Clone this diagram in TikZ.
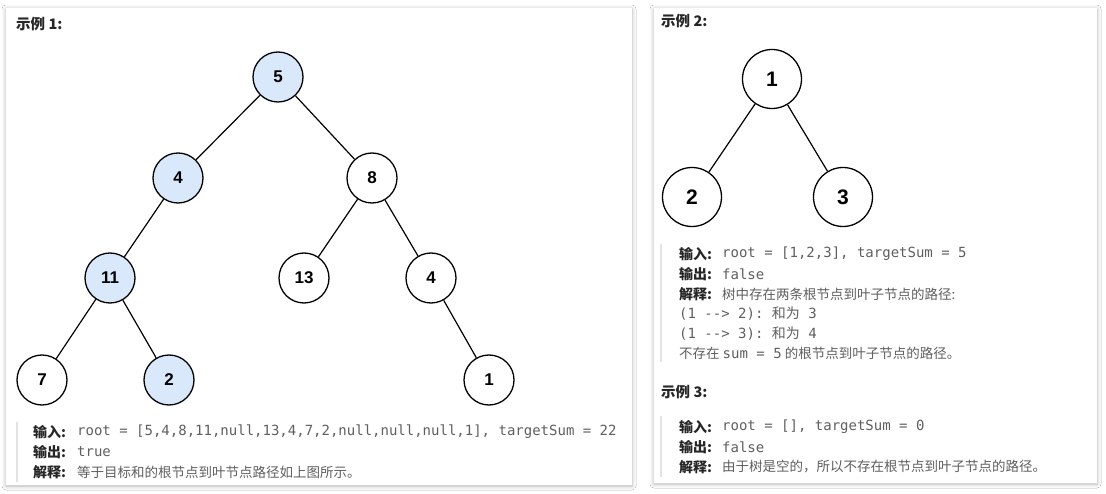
\documentclass[tikz,border=0pt]{standalone}
\usepackage{fontspec}
\setmainfont{Liberation Sans}
\setmonofont{DejaVu Sans Mono}
\newfontfamily\cjk{Noto Sans CJK SC}
\usepackage{tikz}
\usetikzlibrary{positioning}
\usetikzlibrary{shadows.blur}
\definecolor{hitblue}{HTML}{DAE8FC}
\definecolor{labelc}{HTML}{262626}
\definecolor{codec}{HTML}{5F5F5F}
\definecolor{barc}{HTML}{E3E3E3}
\tikzset{
  tnode/.style={draw, circle, minimum size=50pt, inner sep=0pt, line width=1.3pt,
    font=\bfseries\fontsize{17}{17}\selectfont},
  hit/.style={tnode, fill=hitblue},
  bignode/.style={tnode, minimum size=59pt, font=\bfseries\fontsize{21}{21}\selectfont},
  edge/.style={line width=1.2pt},
  panel/.style={fill=white, blur shadow={shadow xshift=0pt, shadow yshift=-1pt,
    shadow blur radius=4pt, shadow opacity=30}},
  bar/.style={draw=barc, line width=2pt},
  head/.style={anchor=west, inner sep=0pt, text=labelc, font=\cjk\bfseries\fontsize{14.5}{15}\selectfont},
  lbl/.style={anchor=west, inner sep=0pt, text=labelc, font=\cjk\bfseries\fontsize{14}{14}\selectfont},
  val/.style={anchor=west, inner sep=0pt, text=codec, font=\ttfamily\fontsize{14}{14}\selectfont},
  note/.style={anchor=west, inner sep=0pt, text=codec, font=\cjk\fontsize{13.5}{14}\selectfont}
}

\begin{document}
\begin{tikzpicture}[x=1pt, y=-1pt, on grid]
        \useasboundingbox [fill=white] (0,0) rectangle (1106,494);

        % the two cards
        \path [panel] (6,8) rectangle (632,485);
        \path [panel] (654,8) rectangle (1097,483);
        \draw [bar] (17,422) -- (17,482);
        \draw [bar] (661,244) -- (661,362);
        \draw [bar] (661,416) -- (661,477);

        % example 1
        \node [head] (head1) at (16,24) {示例 1:};

        \node [hit] (n5) at (278,77) {5};
        \node [hit, below left=101pt and 100pt of n5] (n4a) {4};
        \node [tnode, below right=101pt and 94pt of n5] (n8) {8};
        \node [hit, below left=100pt and 68pt of n4a] (n11) {11};
        \node [tnode, below left=100pt and 68pt of n8] (n13) {13};
        \node [tnode, below right=100pt and 59pt of n8] (n4b) {4};
        \node [tnode, below left=102pt and 68pt of n11] (n7) {7};
        \node [hit, below right=102pt and 59pt of n11] (n2) {2};
        \node [tnode, below right=102pt and 58pt of n4b] (n1) {1};
        \draw [edge] (n5)--(n4a);
        \draw [edge] (n5)--(n8);
        \draw [edge] (n4a)--(n11);
        \draw [edge] (n8)--(n13);
        \draw [edge] (n8)--(n4b);
        \draw [edge] (n11)--(n7);
        \draw [edge] (n11)--(n2);
        \draw [edge] (n4b)--(n1);

        \node [lbl] (in1) at (33,432) {输入:};
        \node [val] (inval1) at (77,432) {root = [5,4,8,11,null,13,4,7,2,null,null,null,1], targetSum = 22};
        \node [lbl] (out1) at (33,452) {输出:};
        \node [val] (outval1) at (77,452) {true};
        \node [lbl] (why1) at (33,472) {解释:};
        \node [note] (whyval1) at (77,472) {等于目标和的根节点到叶节点路径如上图所示。};

        % example 2
        \node [head] (head2) at (661,21) {示例 2:};

        \node [bignode] (m1) at (772,79) {1};
        \node [bignode, below left=118pt and 80pt of m1] (m2) {2};
        \node [bignode, below right=118pt and 71pt of m1] (m3) {3};
        \draw [edge] (m1)--(m2);
        \draw [edge] (m1)--(m3);

        \node [lbl] (in2) at (679,254) {输入:};
        \node [val] (inval2) at (722,254) {root = [1,2,3], targetSum = 5};
        \node [lbl] (out2) at (679,274) {输出:};
        \node [val] (outval2) at (722,274) {false};
        \node [lbl] (why2) at (679,294) {解释:};
        \node [note] (whyval2) at (722,294) {树中存在两条根节点到叶子节点的路径:};
        \node [val] (path2a) at (679,314) {(1 -{}-> 2): {\cjk 和为} 3};
        \node [val] (path2b) at (679,334) {(1 -{}-> 3): {\cjk 和为} 4};
        \node [note] (none2) at (679,353) {不存在 {\ttfamily\fontsize{14}{14}\selectfont sum = 5} 的根节点到叶子节点的路径。};

        % example 3
        \node [head] (head3) at (661,392) {示例 3:};

        \node [lbl] (in3) at (679,427) {输入:};
        \node [val] (inval3) at (722,427) {root = [], targetSum = 0};
        \node [lbl] (out3) at (679,447) {输出:};
        \node [val] (outval3) at (722,447) {false};
        \node [lbl] (why3) at (679,467) {解释:};
        \node [note] (whyval3) at (722,467) {由于树是空的，所以不存在根节点到叶子节点的路径。};
    \end{tikzpicture}
\end{document}
